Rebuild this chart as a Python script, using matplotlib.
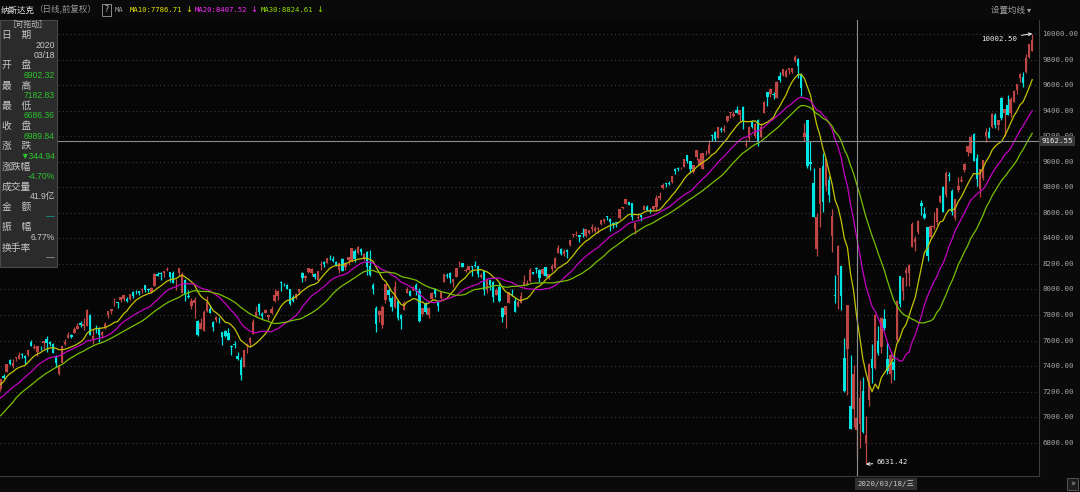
import matplotlib
matplotlib.use("Agg")
import matplotlib.pyplot as plt
from matplotlib.patches import Rectangle
import numpy as np
import pandas as pd

W, H = 1080, 492

# closes before the visible window, only used to warm up the moving averages
warmup_closes = [6193, 6554, 6579, 6585, 6635,
                 6666, 6464, 6739, 6823, 6897, 6957, 6986, 6971, 6906, 7024, 7035,
                 7084, 7157, 7020, 7026, 7073, 7165, 7086, 7028, 7183, 7282,
                 7264, 7348, 7402, 7375, 7288]

# daily bars 2019/02/08 .. 2020/06/09, one line per month
opens = [
    7217, 7320, 7355, 7445, 7400, 7463, 7458, 7494, 7480, 7488, 7586, 7540, 7510, 7534,
    7578, 7615, 7586, 7570, 7477, 7337, 7422, 7573, 7620, 7640, 7658, 7690, 7738, 7713, 7713, 7800, 7615, 7695, 7699, 7646, 7709,
    7800, 7833, 7893, 7898, 7915, 7925, 7924, 7923, 7978, 7990, 7985, 7998, 8034, 8005, 7983, 8030, 8121, 8128, 8126, 8153, 8133,
    8125, 8034, 8127, 7975, 8075, 7948, 7874, 7893, 7752, 7690, 7676, 7831, 7845, 7746, 7759, 7754, 7663, 7677, 7656, 7560, 7571, 7478,
    7450, 7396, 7571, 7580, 7655, 7788, 7885, 7807, 7815, 7781, 7815, 7906, 7950, 8059, 8034, 8035, 8001, 7941, 7933, 7978,
    8132, 8093, 8135, 8131, 8122, 8070, 8188, 8213, 8210, 8262, 8241, 8211, 8152, 8238, 8177, 8231, 8221, 8301, 8286, 8320, 8240, 8293,
    8182, 8036, 7852, 7800, 7724, 7917, 7995, 7930, 7864, 7910, 7798, 7836, 7973, 7987, 7999, 8034, 7985, 7811, 7894, 7800, 7924, 8006,
    7907, 7936, 8061, 8116, 8129, 8058, 8099, 8188, 8205, 8141, 8153, 8184, 8195, 8186, 8101, 8141, 7999, 8077, 8055, 7959,
    8019, 7856, 7796, 7892, 7961, 7910, 7868, 7896, 8026, 8040, 8063, 8135, 8169, 8155, 8119, 8172, 8096, 8159, 8167, 8288, 8315, 8281, 8306,
    8347, 8429, 8433, 8424, 8443, 8422, 8444, 8470, 8454, 8474, 8511, 8537, 8573, 8550, 8523, 8529, 8556, 8634, 8668, 8682,
    8678, 8470, 8560, 8582, 8625, 8647, 8622, 8627, 8642, 8714, 8791, 8834, 8837, 8842, 8944, 8947, 8950, 8962, 9050, 9005, 8919,
    9039, 8977, 8943, 9069, 9068, 9205, 9232, 9188, 9258, 9243, 9317, 9378, 9357, 9407, 9365, 9428, 9129, 9188, 9318, 9202, 9330,
    9192, 9382, 9542, 9527, 9532, 9498, 9675, 9681, 9664, 9722, 9702, 9790, 9802, 9690, 9196, 9325, 8994, 8837, 8313,
    8667, 8963, 8811, 8857, 8416, 7956, 8113, 8185, 7466, 7536, 7087, 7061, 6902.32, 6945, 7206, 6800, 7131, 7453, 7388, 7597, 7546, 7770,
    7459, 7340, 7434, 7603, 8106, 7986, 8127, 8128, 8331, 8374, 8450, 8678, 8588, 8488, 8410, 8488, 8530, 8686, 8804, 8738, 8893,
    8774, 8560, 8778, 8847, 8938, 9076, 9069, 9215, 9032, 8788, 8869, 9198, 9234, 9272, 9362, 9291, 9500, 9383, 9444, 9383,
    9471, 9565, 9656, 9667, 9703, 9823, 9868,
]
highs = [
    7300, 7336, 7420, 7456, 7453, 7474, 7508, 7505, 7485, 7528, 7603, 7575, 7556, 7560,
    7597, 7633, 7600, 7578, 7484, 7416, 7560, 7613, 7664, 7650, 7702, 7734, 7756, 7777, 7848, 7806, 7688, 7721, 7703, 7678, 7744,
    7830, 7850, 7930, 7903, 7940, 7956, 7941, 7966, 7985, 7995, 7990, 8011, 8035, 8011, 8017, 8129, 8140, 8139, 8146, 8176, 8134,
    8142, 8085, 8164, 8135, 8082, 7992, 7934, 7937, 7757, 7776, 7836, 7946, 7881, 7753, 7791, 7788, 7666, 7686, 7700, 7567, 7593, 7509,
    7468, 7528, 7582, 7628, 7771, 7871, 7890, 7820, 7848, 7805, 7872, 8004, 7996, 8068, 8052, 8043, 8004, 7960, 7972, 8007,
    8139, 8111, 8171, 8170, 8125, 8146, 8221, 8221, 8245, 8268, 8258, 8221, 8213, 8245, 8213, 8252, 8324, 8313, 8340, 8324, 8287, 8301,
    8312, 8050, 7870, 7842, 7882, 8040, 8008, 7951, 8065, 7916, 7807, 7912, 8017, 7998, 8024, 8047, 8010, 7855, 7900, 7864, 7982, 8012,
    7914, 7979, 8117, 8125, 8139, 8085, 8170, 8225, 8210, 8171, 8186, 8186, 8221, 8187, 8131, 8143, 8088, 8081, 8069, 8009,
    8056, 7860, 7873, 7983, 8000, 7939, 7914, 7980, 8112, 8072, 8165, 8140, 8176, 8162, 8166, 8178, 8120, 8197, 8253, 8345, 8324, 8318, 8313,
    8386, 8437, 8458, 8425, 8478, 8476, 8466, 8510, 8499, 8485, 8541, 8555, 8575, 8556, 8528, 8529, 8633, 8648, 8705, 8687,
    8679, 8522, 8587, 8583, 8660, 8665, 8640, 8656, 8743, 8760, 8831, 8836, 8849, 8888, 8947, 8956, 8957, 9022, 9052, 9007, 8973,
    9093, 9066, 9072, 9091, 9168, 9217, 9237, 9274, 9272, 9285, 9357, 9390, 9397, 9439, 9403, 9434, 9180, 9277, 9323, 9301, 9332,
    9304, 9475, 9544, 9575, 9548, 9629, 9705, 9726, 9728, 9731, 9737, 9838, 9809, 9692, 9306, 9330, 9165, 8953, 8597,
    8953, 9071, 9019, 8888, 8629, 8111, 8345, 8185, 7617, 7875, 7488, 7405, 7182.83, 7294, 7312, 7006, 7421, 7575, 7811, 7714, 7784, 7849,
    7589, 7514, 7492, 7916, 8106, 8095, 8179, 8203, 8527, 8421, 8547, 8701, 8644, 8492, 8505, 8610, 8640, 8740, 8810, 8931, 8922,
    8787, 8712, 8881, 8892, 8990, 9122, 9213, 9228, 9058, 8945, 9015, 9262, 9275, 9380, 9385, 9325, 9505, 9413, 9524, 9505,
    9562, 9609, 9693, 9706, 9845, 9925, 10002.50,
]
lows = [
    7205, 7295, 7353, 7412, 7384, 7440, 7458, 7462, 7420, 7481, 7554, 7532, 7482, 7522,
    7535, 7511, 7558, 7500, 7391, 7332, 7422, 7564, 7616, 7620, 7658, 7690, 7703, 7680, 7713, 7640, 7573, 7660, 7587, 7620, 7693,
    7776, 7810, 7873, 7858, 7905, 7913, 7903, 7915, 7933, 7967, 7955, 7973, 7983, 7980, 7975, 8029, 8102, 8077, 8094, 8143, 8055,
    8049, 7995, 8108, 7971, 7907, 7930, 7845, 7776, 7636, 7687, 7674, 7826, 7812, 7674, 7744, 7741, 7566, 7628, 7602, 7484, 7541, 7450,
    7292, 7396, 7500, 7550, 7650, 7787, 7797, 7772, 7813, 7763, 7811, 7901, 7918, 7987, 8030, 8002, 7878, 7900, 7929, 7966,
    8059, 8069, 8129, 8106, 8079, 8067, 8155, 8175, 8206, 8233, 8216, 8183, 8131, 8143, 8156, 8191, 8215, 8216, 8276, 8272, 8234, 8112,
    8103, 7962, 7663, 7742, 7700, 7897, 7906, 7829, 7851, 7763, 7694, 7836, 7969, 7948, 7991, 7955, 7743, 7794, 7808, 7779, 7921, 7938,
    7832, 7929, 8055, 8089, 8047, 8016, 8094, 8172, 8173, 8138, 8143, 8102, 8178, 8098, 8088, 7957, 7970, 7999, 7899, 7955,
    7905, 7744, 7701, 7891, 7952, 7823, 7860, 7891, 8025, 8033, 8062, 8122, 8128, 8058, 8113, 8100, 8079, 8145, 8167, 8287, 8271, 8264, 8245,
    8342, 8409, 8422, 8374, 8410, 8409, 8437, 8451, 8453, 8444, 8502, 8521, 8540, 8461, 8479, 8485, 8555, 8628, 8668, 8665,
    8545, 8435, 8549, 8535, 8620, 8617, 8598, 8624, 8624, 8700, 8789, 8804, 8820, 8836, 8905, 8927, 8940, 8961, 8988, 8915, 8912,
    9011, 8977, 8943, 9053, 9060, 9162, 9164, 9183, 9232, 9233, 9311, 9344, 9354, 9384, 9322, 9258, 9113, 9159, 9265, 9185, 9122,
    9183, 9380, 9440, 9508, 9492, 9497, 9625, 9675, 9664, 9689, 9695, 9782, 9658, 9517, 9165, 8952, 8938, 8564, 8264,
    8489, 8603, 8772, 8683, 8296, 7897, 7843, 7840, 7195, 7175, 6904, 6925, 6686.36, 6762, 6873, 6631.42, 7085, 7271, 7377, 7486, 7502, 7685,
    7340, 7271, 7290, 7586, 7865, 7920, 8028, 8027, 8331, 8298, 8432, 8586, 8553, 8226, 8406, 8472, 8508, 8677, 8603, 8727, 8850,
    8581, 8540, 8765, 8840, 8917, 9047, 9069, 9002, 8807, 8724, 8860, 9154, 9183, 9264, 9264, 9247, 9327, 9200, 9365, 9348,
    9470, 9530, 9625, 9584, 9697, 9811, 9864,
]
closes = [
    7298, 7308, 7415, 7420, 7427, 7472, 7487, 7489, 7460, 7528, 7554, 7549, 7555, 7533,
    7595, 7578, 7576, 7506, 7421, 7408, 7558, 7591, 7643, 7631, 7689, 7714, 7724, 7729, 7839, 7643, 7638, 7692, 7643, 7669, 7729,
    7829, 7849, 7896, 7892, 7939, 7954, 7909, 7964, 7947, 7984, 7976, 8000, 7996, 7998, 8015, 8121, 8102, 8119, 8146, 8162, 8095,
    8050, 8037, 8164, 8123, 7964, 7943, 7911, 7917, 7647, 7734, 7822, 7898, 7816, 7702, 7786, 7751, 7628, 7637, 7607, 7547, 7568, 7453,
    7333, 7527, 7575, 7616, 7742, 7823, 7823, 7793, 7837, 7797, 7845, 7954, 7987, 8051, 8032, 8006, 7885, 7910, 7968, 8006,
    8091, 8109, 8170, 8162, 8098, 8142, 8203, 8196, 8244, 8258, 8223, 8185, 8207, 8146, 8204, 8251, 8322, 8239, 8330, 8293, 8274, 8175,
    8111, 8004, 7726, 7833, 7863, 8039, 7959, 7863, 8016, 7774, 7767, 7896, 8003, 7949, 8020, 7991, 7752, 7854, 7827, 7857, 7973, 7963,
    7874, 7977, 8117, 8103, 8087, 8084, 8170, 8194, 8177, 8154, 8186, 8177, 8183, 8118, 8112, 7994, 8077, 8031, 7940, 7999,
    7909, 7785, 7872, 7982, 7956, 7824, 7904, 7951, 8057, 8049, 8149, 8124, 8157, 8090, 8163, 8104, 8120, 8186, 8243, 8326, 8277, 8304, 8292,
    8386, 8433, 8435, 8411, 8435, 8475, 8464, 8486, 8482, 8479, 8541, 8550, 8571, 8527, 8506, 8520, 8632, 8648, 8705, 8665,
    8568, 8521, 8567, 8571, 8657, 8622, 8616, 8654, 8717, 8735, 8814, 8823, 8828, 8887, 8925, 8946, 8953, 9022, 9007, 8946, 8973,
    9092, 9021, 9071, 9069, 9129, 9203, 9179, 9274, 9251, 9259, 9357, 9389, 9371, 9384, 9402, 9315, 9139, 9270, 9275, 9299, 9151,
    9273, 9468, 9509, 9572, 9521, 9628, 9639, 9726, 9712, 9731, 9733, 9817, 9751, 9577, 9221, 8966, 8981, 8566, 8567,
    8952, 8684, 9018, 8739, 8576, 7951, 8344, 7952, 7202, 7875, 6905, 7334.78, 6989.84, 7151, 6880, 6861, 7418, 7384, 7798, 7502, 7774, 7700,
    7361, 7487, 7373, 7913, 7887, 8091, 8154, 8192, 8516, 8393, 8532, 8650, 8561, 8263, 8495, 8495, 8635, 8730, 8608, 8915, 8890,
    8605, 8711, 8809, 8854, 8980, 9121, 9192, 9003, 8863, 8944, 9015, 9235, 9185, 9376, 9285, 9325, 9340, 9412, 9369, 9490,
    9552, 9608, 9683, 9616, 9814, 9925, 9954,
]

ma_periods = [10, 20, 30]
ma_line_colors = ["#c4c400", "#c400c4", "#78c000"]
ma_text_colors = ["#e4e400", "#ff2cff", "#96e000"]
ma_labels = ["MA10:7786.71", "MA20:8407.52", "MA30:8824.61"]

price_ticks = [6800, 7000, 7200, 7400, 7600, 7800, 8000, 8200, 8400,
               8600, 8800, 9000, 9200, 9400, 9600, 9800, 10000]

cross_index = 278
cross_price = 9162.55
cross_date = "2020/03/18/三"

# info panel: (text, align, colour)
panel_rows = [
    ("日　期", "l", "#c8c8c8"), ("2020", "r", "#c8c8c8"), ("03/18", "r", "#c8c8c8"),
    ("开　盘", "l", "#c8c8c8"), ("6902.32", "r", "#2cc42c"),
    ("最　高", "l", "#c8c8c8"), ("7182.83", "r", "#2cc42c"),
    ("最　低", "l", "#c8c8c8"), ("6686.36", "r", "#2cc42c"),
    ("收　盘", "l", "#c8c8c8"), ("6989.84", "r", "#2cc42c"),
    ("涨　跌", "l", "#c8c8c8"), ("▼344.94", "r", "#2cc42c"),
    ("涨跌幅", "l", "#c8c8c8"), ("-4.70%", "r", "#2cc42c"),
    ("成交量", "l", "#c8c8c8"), ("41.9亿", "r", "#c8c8c8"),
    ("金　额", "l", "#c8c8c8"), ("—", "r", "#00b8b8"),
    ("振　幅", "l", "#c8c8c8"), ("6.77%", "r", "#c8c8c8"),
    ("换手率", "l", "#c8c8c8"), ("—", "r", "#b0b0b0"),
]

CJK = ["Noto Sans CJK SC", "DejaVu Sans"]
MONO = ["DejaVu Sans Mono", "Noto Sans CJK SC"]
NUM = ["Liberation Sans", "DejaVu Sans", "Noto Sans CJK SC"]

fig = plt.figure(figsize=(W / 100, H / 100), dpi=100, facecolor="#0a0a0a")


def put(x, y, s, color, size, family, ha="left", **kw):
    fig.text(x / W, 1 - y / H, s, color=color, fontsize=size, family=family,
             ha=ha, va="center", zorder=10, **kw)


def box(x, y, w, h, fc, ec="none", lw=0.8, z=6):
    fig.add_artist(Rectangle((x / W, 1 - (y + h) / H), w / W, h / H,
                             transform=fig.transFigure, fc=fc, ec=ec, lw=lw, zorder=z))


# main price axes, in pixels: x 0..1039, y 20..476
ax = fig.add_axes([0, (H - 476) / H, 1039 / W, 456 / H])
ax.set_facecolor("#060606")
ax.set_xlim(-0.16, 337.2)
ax.set_ylim(6539.3, 10109.6)
ax.set_xticks([])
ax.set_yticks([])
for side in ["top", "left"]:
    ax.spines[side].set_visible(False)
ax.spines["right"].set_color("#3c3c3c")
ax.spines["bottom"].set_color("#3c3c3c")

for v in price_ticks:
    ax.axhline(v, color="#3a3a3a", lw=0.8, ls=(0, (1, 2.5)), zorder=0)
    ax.text(1.003, v, f"{v:.2f}", transform=ax.get_yaxis_transform(), clip_on=False,
            color="#a4a4a4", fontsize=5.3, family=MONO, ha="left", va="center")

# candles
o = np.array(opens, float)
h = np.array(highs, float)
l = np.array(lows, float)
c = np.array(closes, float)
x = np.arange(len(c))
up = c >= o
colors = np.where(up, "#c04646", "#00e4e4")
ax.vlines(x, l, h, colors=colors, lw=0.9, zorder=2)
ax.bar(x, np.maximum(np.abs(c - o), 3), bottom=np.minimum(o, c), width=0.78,
       color=colors, linewidth=0, zorder=3)

# moving averages
all_closes = pd.Series(warmup_closes + closes, dtype=float)
n_warm = len(warmup_closes)
for period, color in zip(ma_periods, ma_line_colors):
    ma = all_closes.rolling(period).mean().to_numpy()[n_warm:]
    ax.plot(x, ma, color=color, lw=0.9, zorder=4)

# crosshair
ax.axvline(cross_index, color="#8c8c8c", lw=0.8, zorder=5)
ax.axhline(cross_price, color="#8c8c8c", lw=0.8, zorder=5)
ax.text(1.002, cross_price, f"{cross_price:.2f}", transform=ax.get_yaxis_transform(),
        clip_on=False, color="#f0f0f0", fontsize=5.3, family=MONO, ha="left", va="center",
        bbox=dict(fc="#3a3a3a", ec="none", pad=1.6), zorder=6)
ax.text(cross_index + 0.3, -0.0175, cross_date, transform=ax.get_xaxis_transform(),
        clip_on=False, color="#c8c8c8", fontsize=5.3, family=MONO, ha="left", va="center",
        bbox=dict(fc="#303030", ec="none", pad=1.6), zorder=6)

# extreme value marks
imax = int(np.argmax(h))
imin = int(np.argmin(l))
ax.annotate(f"{h[imax]:.2f}", xy=(imax, h[imax]), xytext=(-15, -5), textcoords="offset pixels",
            color="#f0f0f0", fontsize=5.3, family=MONO, ha="right", va="center",
            arrowprops=dict(arrowstyle="->", color="#f0f0f0", lw=0.7, shrinkA=1, shrinkB=0,
                            mutation_scale=5), zorder=7)
ax.annotate(f"{l[imin]:.2f}", xy=(imin, l[imin]), xytext=(11, 2), textcoords="offset pixels",
            color="#f0f0f0", fontsize=5.3, family=MONO, ha="left", va="center",
            arrowprops=dict(arrowstyle="->", color="#f0f0f0", lw=0.7, shrinkA=1, shrinkB=0,
                            mutation_scale=5), zorder=7)

# header line
put(1, 10, "纳斯达克", "#e6e6e6", 6.1, CJK)
put(34, 10, "（日线,前复权）", "#9a9a9a", 6.1, CJK)
box(102, 4, 9, 12, "none", ec="#8a8a8a", lw=0.7, z=9)
put(106.5, 10, "?", "#d0d0d0", 5.5, ["DejaVu Sans"], ha="center")
put(115, 10, "MA", "#9a9a9a", 5.2, MONO)
for label, color, x0 in zip(ma_labels, ma_text_colors, [130, 195, 261]):
    put(x0, 10, label, color, 5.2, MONO)
    put(x0 + 55, 10, "↓", color, 6, ["DejaVu Sans"])
put(1031, 10, "设置均线 ▾", "#a0a0a0", 6.1, CJK, ha="right")

# info panel
box(0, 20, 57, 247, "#2b2b2b", ec="#484848", lw=0.8)
put(28, 25, "［可拖动］", "#c4c4c4", 5.6, CJK, ha="center")
for i, (text, align, color) in enumerate(panel_rows):
    y = 35 + i * 10.12
    if align == "l":
        put(2, y, text, color, 7, CJK)
    else:
        put(55, y, text, color, 6.2, NUM, ha="right")

# bottom-right button
box(1067, 478, 11, 12, "#1c1c1c", ec="#555555", lw=0.7)
put(1072.5, 484, "»", "#b0b0b0", 6, ["DejaVu Sans"], ha="center")

fig.savefig("out.png", dpi=100, facecolor=fig.get_facecolor())
